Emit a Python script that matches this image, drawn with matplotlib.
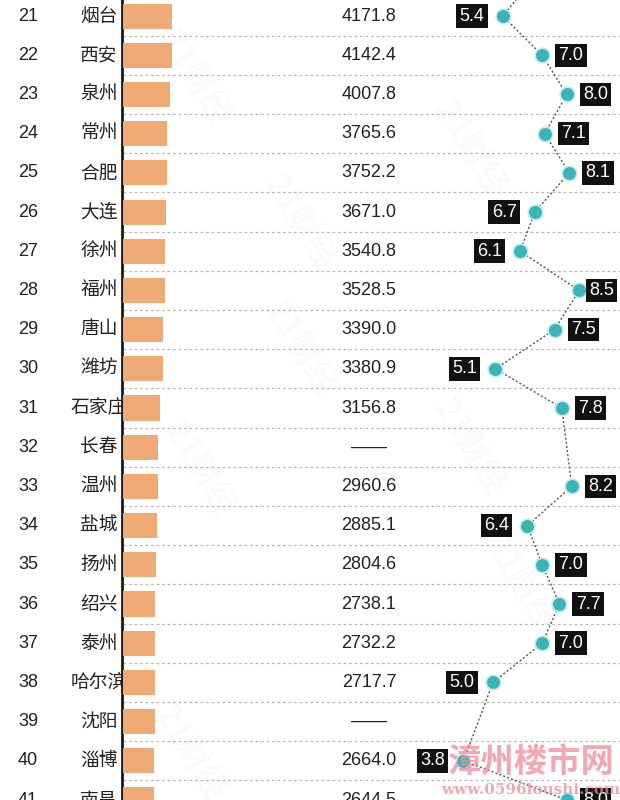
import numpy as np
import matplotlib.pyplot as plt

plt.rcParams['font.family'] = ['Liberation Sans', 'Noto Sans CJK SC', 'DejaVu Sans']

# data (rank 20 is only visible as the line leaving the top edge)
ranks = list(range(21, 42))
cities = ['烟台', '西安', '泉州', '常州', '合肥', '大连', '徐州', '福州', '唐山', '潍坊',
          '石家庄', '长春', '温州', '盐城', '扬州', '绍兴', '泰州', '哈尔滨', '沈阳', '淄博', '南昌']
gdp = [4171.8, 4142.4, 4007.8, 3765.6, 3752.2, 3671.0, 3540.8, 3528.5, 3390.0, 3380.9,
       3156.8, None, 2960.6, 2885.1, 2804.6, 2738.1, 2732.2, 2717.7, None, 2664.0, 2644.5]
# bar lengths (missing GDP values)
bar_len = [4171.8, 4142.4, 4007.8, 3765.6, 3752.2, 3671.0, 3540.8, 3528.5, 3390.0, 3380.9,
           3156.8, 2950.0, 2960.6, 2885.1, 2804.6, 2738.1, 2732.2, 2717.7, 2690.0, 2664.0, 2644.5]
growth_ranks = list(range(20, 42))
growth = [6.7, 5.4, 7.0, 8.0, 7.1, 8.1, 6.7, 6.1, 8.5, 7.5, 5.1, 7.8, None, 8.2, 6.4,
          7.0, 7.7, 7.0, 5.0, None, 3.8, 8.0]

bar_color = '#F0AA76'
teal = '#3BB4B6'
ylim = (41.0, 20.59)
g0, gscale = 370, 24.6   # growth axis: pixel of 0 and pixels per unit

fig = plt.figure(figsize=(6.2, 8.0), dpi=100)
fig.patch.set_facecolor('white')

# layout axes (x in pixel-like layout units)
ax = fig.add_axes([0, 0, 1, 1])
ax.set_xlim(0, 620)
ax.set_ylim(*ylim)
ax.axis('off')

for r in ranks:
    ax.hlines(r + 0.5, 123, 620, colors='#b8b8b8', lw=0.9, linestyles=(0, (2.2, 2.2)))
ax.axvline(122, color='#1a1a1a', lw=2, zorder=5)

for r, c, v in zip(ranks, cities, gdp):
    ax.text(28, r, str(r), ha='center', va='center', fontsize=13, color='#222222')
    ax.text(99, r, c, ha='center', va='center', fontsize=13.5, color='#222222',
            family=['Noto Sans CJK SC', 'DejaVu Sans'])
    txt = '——' if v is None else f'{v:.1f}'
    ax.text(369, r, txt, ha='center', va='center', fontsize=13, color='#222222')

# faint watermarks
for (wx, wy) in [(195, 22.6), (300, 26.3), (470, 24.4), (200, 32.6), (300, 29.5),
                 (470, 32.0), (520, 35.5), (190, 39.8)]:
    ax.text(wx, wy, '21财经', fontsize=24, color='#000000', alpha=0.025, rotation=-58,
            ha='center', va='center', family=['Noto Sans CJK SC'], fontweight='bold')

# bars
bx = fig.add_axes([123 / 620, 0, 0.2, 1])
bx.set_xlim(0, 124 / 0.01178)
bx.set_ylim(*ylim)
bx.axis('off')
bx.barh(ranks, bar_len, height=0.64, color=bar_color, edgecolor='none')

# growth line
gx = fig.add_axes([0, 0, 1, 1])
gx.set_xlim(-g0 / gscale, (620 - g0) / gscale)
gx.set_ylim(*ylim)
gx.axis('off')
pts = [(g, r) for r, g in zip(growth_ranks, growth) if g is not None]
gxs = [p[0] for p in pts]
gys = [p[1] for p in pts]
gx.plot(gxs, gys, color='#555555', lw=1, ls=(0, (1.5, 1.5)), zorder=2)
gx.plot(gxs, gys, ls='none', marker='o', ms=10.5, color=teal,
        mec='#c4ecec', mew=1.2, zorder=3)
pad_px = 3.3
for g, r in pts:
    dot_px = g0 + gscale * g
    if g < 7.0:
        tx = dot_px - 15 - pad_px
        ha = 'right'
    else:
        tx = min(dot_px + 13, 586) + pad_px
        ha = 'left'
    gx.text((tx - g0) / gscale, r, f'{g:.1f}', ha=ha, va='center', fontsize=13,
            color='white', zorder=4,
            bbox=dict(boxstyle='square,pad=0.18', fc='#111111', ec='none'))

gx.text((531 - g0) / gscale, 40.05, '漳州楼市网', fontsize=24, color='#EE8A9A', alpha=0.75,
        ha='center', va='center', family=['Noto Sans CJK SC'], fontweight='bold', zorder=8)
gx.text((531 - g0) / gscale, 40.75, 'www.0596loushi.com', fontsize=11, color='#EE8A9A',
        alpha=0.75, ha='center', va='center', family=['DejaVu Serif'], fontweight='bold',
        zorder=8)

fig.savefig('out.png', dpi=100)
